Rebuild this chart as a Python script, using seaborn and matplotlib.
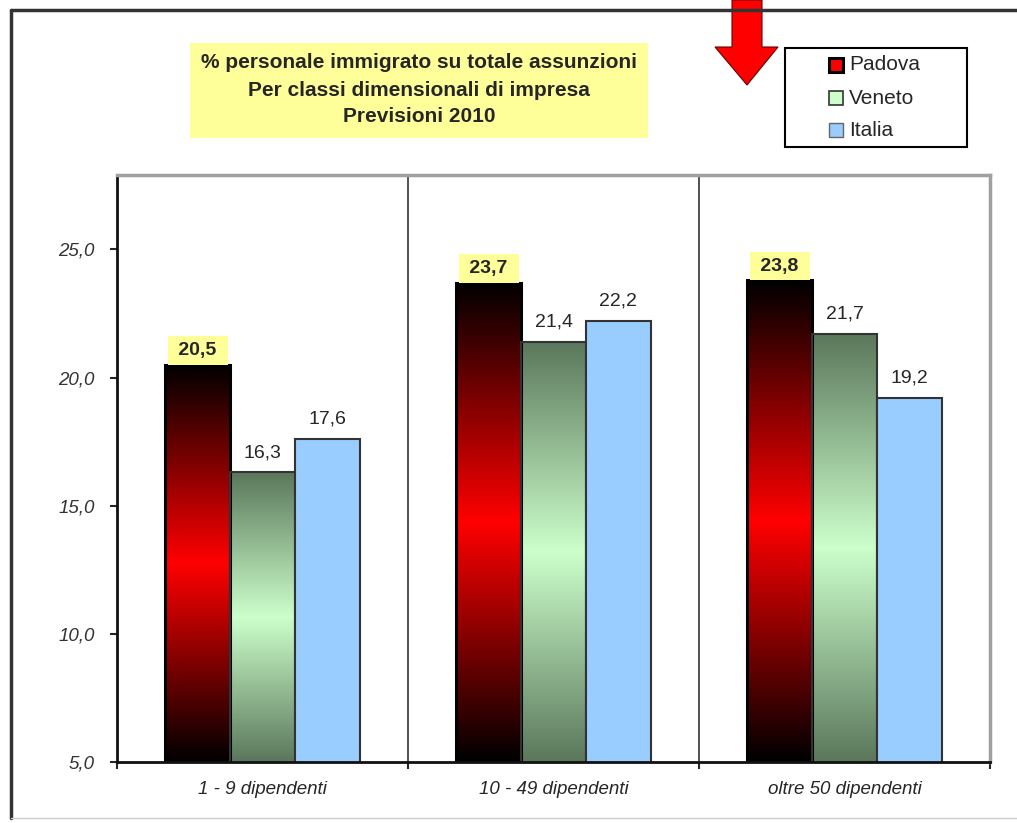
import numpy as np
import pandas as pd
import matplotlib.pyplot as plt
import matplotlib.colors as mcolors
import seaborn as sns
from matplotlib.patches import Rectangle, Polygon
from matplotlib.lines import Line2D

# dati
classi = ['1 - 9 dipendenti', '10 - 49 dipendenti', 'oltre 50 dipendenti']
aree = ['Padova', 'Veneto', 'Italia']
padova = [20.5, 23.7, 23.8]
veneto = [16.3, 21.4, 21.7]
italia = [17.6, 22.2, 19.2]
yticks = [5.0, 10.0, 15.0, 20.0, 25.0]
titolo = ['% personale immigrato su totale assunzioni',
          'Per classi dimensionali di impresa',
          'Previsioni 2010']

df = pd.DataFrame({'classe': classi * 3,
                   'area': np.repeat(aree, 3),
                   'valore': padova + veneto + italia})

sns.set_style('white')
plt.rcParams['font.family'] = ['Liberation Sans', 'DejaVu Sans']

W, H = 1017, 823
fig = plt.figure(figsize=(W / 100, H / 100), dpi=100)


def fx(x):
    return x / W


def fy(y):
    return 1 - y / H


ax = fig.add_axes([fx(117), fy(762), fx(990) - fx(117), fy(175) - fy(762)])

sns.barplot(data=df, x='classe', y='valore', hue='area', order=classi,
            hue_order=aree, palette=['#ff0000', '#ccffcc', '#99ccff'],
            width=0.667, saturation=1, errorbar=None, legend=False, ax=ax)


def gradiente(c_bordo, c_centro, n=256):
    t = np.linspace(0, 1, n)
    s = 1 - np.abs(2 * t - 1)
    a = np.array(mcolors.to_rgb(c_bordo))
    b = np.array(mcolors.to_rgb(c_centro))
    return (a + (b - a) * s[:, None])[:, None, :]


ymin, ymax = 5, 27.9
grad = {0: gradiente('#000000', '#ff0000'), 1: gradiente('#5b775b', '#ccffcc')}
bordi = {0: ('#000000', 2.2), 1: ('#333333', 1.5), 2: ('#333333', 1.5)}
for i, cont in enumerate(ax.containers):
    for bar in cont:
        bar.set_edgecolor(bordi[i][0])
        bar.set_linewidth(bordi[i][1])
        if i in grad:
            x0, w, h = bar.get_x(), bar.get_width(), bar.get_height()
            im = ax.imshow(grad[i], extent=[x0, x0 + w, ymin, h], aspect='auto',
                           interpolation='bilinear', zorder=0.9)
            im.set_clip_path(bar)
            bar.set_facecolor('none')

ax.set_xlim(-0.5, 2.5)
ax.set_ylim(ymin, ymax)

# etichette valori
fmt = lambda v: f'{v:.1f}'.replace('.', ',')
ax.bar_label(ax.containers[0], labels=[' ' + fmt(v) + ' ' for v in padova],
             padding=4, fontsize=14, fontweight='bold',
             bbox=dict(boxstyle='square,pad=0.3', fc='#ffff99', ec='none'))
ax.bar_label(ax.containers[1], labels=[fmt(v) for v in veneto], padding=8, fontsize=14)
ax.bar_label(ax.containers[2], labels=[fmt(v) for v in italia], padding=8, fontsize=14)

# assi
ax.set_yticks(yticks)
ax.set_yticklabels([fmt(v) for v in yticks], fontsize=13.5, style='italic', color='#333333')
ax.tick_params(axis='y', direction='out', length=5, width=1.5, pad=11, left=True)
ax.set_xticks([-0.5, 0.5, 1.5, 2.5])
ax.set_xticklabels([''] * 4)
ax.set_xticks([0, 1, 2], minor=True)
ax.set_xticklabels(classi, minor=True, fontsize=13.5, style='italic')
ax.tick_params(axis='x', which='major', direction='out', length=5, width=1.5, bottom=True)
ax.tick_params(axis='x', which='minor', length=0, pad=14)
ax.set_xlabel('')
ax.set_ylabel('')

for s in ['left', 'bottom']:
    ax.spines[s].set_color('#111111')
    ax.spines[s].set_linewidth(2)
for s in ['top', 'right']:
    ax.spines[s].set_color('#a0a0a0')
    ax.spines[s].set_linewidth(2.5)
for xs in [0.5, 1.5]:
    ax.axvline(xs, color='#333333', lw=1.2, zorder=0.5)

# cornice esterna
fig.add_artist(Line2D([fx(11), fx(11)], [fy(10), fy(818)], color='#333333', lw=2.5))
fig.add_artist(Line2D([fx(11), fx(1017)], [fy(10), fy(10)], color='#333333', lw=2.5))
fig.add_artist(Line2D([fx(11), fx(1017)], [fy(818), fy(818)], color='#cccccc', lw=1))

# titolo
fig.add_artist(Rectangle((fx(190), fy(138)), fx(648) - fx(190), fy(43) - fy(138),
                         transform=fig.transFigure, fc='#ffff99', ec='none'))
for yy, riga in zip([62, 90, 117], titolo):
    fig.text(fx(419), fy(yy), riga, ha='center', va='center', fontsize=15, fontweight='bold')

# legenda
fig.add_artist(Rectangle((fx(785), fy(147)), fx(967) - fx(785), fy(48) - fy(147),
                         transform=fig.transFigure, fc='white', ec='black', lw=1.5))
leg_col = [('#ff0000', 'black', 2.2), ('#ccffcc', '#333333', 1.2), ('#99ccff', '#666666', 1.0)]
for yy, nome, (fc, ec, lw) in zip([65, 98, 130], aree, leg_col):
    fig.add_artist(Rectangle((fx(829), fy(yy + 7)), fx(14), fy(0) - fy(14),
                             transform=fig.transFigure, fc=fc, ec=ec, lw=lw))
    fig.text(fx(849), fy(yy), nome, ha='left', va='center', fontsize=15)

# freccia rossa
freccia = [(732, 0), (762, 0), (762, 47), (778, 47), (747, 85), (715, 47), (732, 47)]
fig.add_artist(Polygon([(fx(x), fy(y)) for x, y in freccia], closed=True,
                       transform=fig.transFigure, fc='#ff0000', ec='#660000', lw=0.8))

fig.savefig('out.png', dpi=100)
